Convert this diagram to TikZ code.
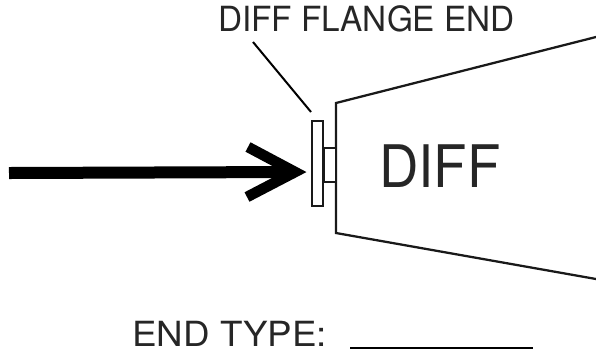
\documentclass[tikz,border=0pt]{standalone}
\usepackage{fontspec}
\newfontfamily\flangefont[FakeStretch=.96]{TeX Gyre Heros}
\newfontfamily\typefont[FakeStretch=1.06]{TeX Gyre Heros}
\newfontfamily\difffont[FakeStretch=.93]{TeX Gyre Heros}
\tikzset{
  label/.style={inner sep=0pt,anchor=base west,text=black!85},
  part/.style={draw=black!90,line width=1.7pt,fill=white,inner sep=0pt},
  outline/.style={draw=black!90,line width=1.7pt}
}
\begin{document}
\begin{tikzpicture}[x=1pt,y=-1pt,scale=.75]
    \useasboundingbox (0,0) rectangle (596,350);
    % diff housing
    \coordinate (topfar) at (596,37);
    \coordinate (topnear) at (336,103);
    \coordinate (botnear) at (336,233);
    \coordinate (botfar) at (596,279);
    \draw[outline] (topfar) -- (topnear) -- (botnear) -- (botfar);
    \node[part,minimum width=9.4pt,minimum height=25pt] (stub) at (330,165) {};
    \node[part,minimum width=8.4pt,minimum height=64pt] (flange) at (317.5,163.5) {};
    \node[label,font=\difffont\fontsize{44}{44}\selectfont] (diff) at (379,187) {DIFF};
    % arrow
    \coordinate (tail) at (9,173);
    \coordinate (tip) at (295,172);
    \draw[line width=9pt] (tail) -- (tip);
    \draw[line width=8pt,miter limit=10] (248,147) -- (tip) -- (247,197);
    % leader and texts
    \node[label,font=\flangefont\fontsize{26}{26}\selectfont] (flangetext) at (218,31) {DIFF FLANGE END};
    \coordinate (leaderstart) at (253,42);
    \coordinate (leaderend) at (311,112);
    \draw[line width=1.5pt] (leaderstart) -- (leaderend);
    \node[label,font=\typefont\fontsize{26}{26}\selectfont] (endtype) at (132,346.5) {END TYPE:};
    \coordinate (blankstart) at (350,348);
    \coordinate (blankend) at (533,348);
    \draw[line width=1.6pt] (blankstart) -- (blankend);
\end{tikzpicture}
\end{document}
